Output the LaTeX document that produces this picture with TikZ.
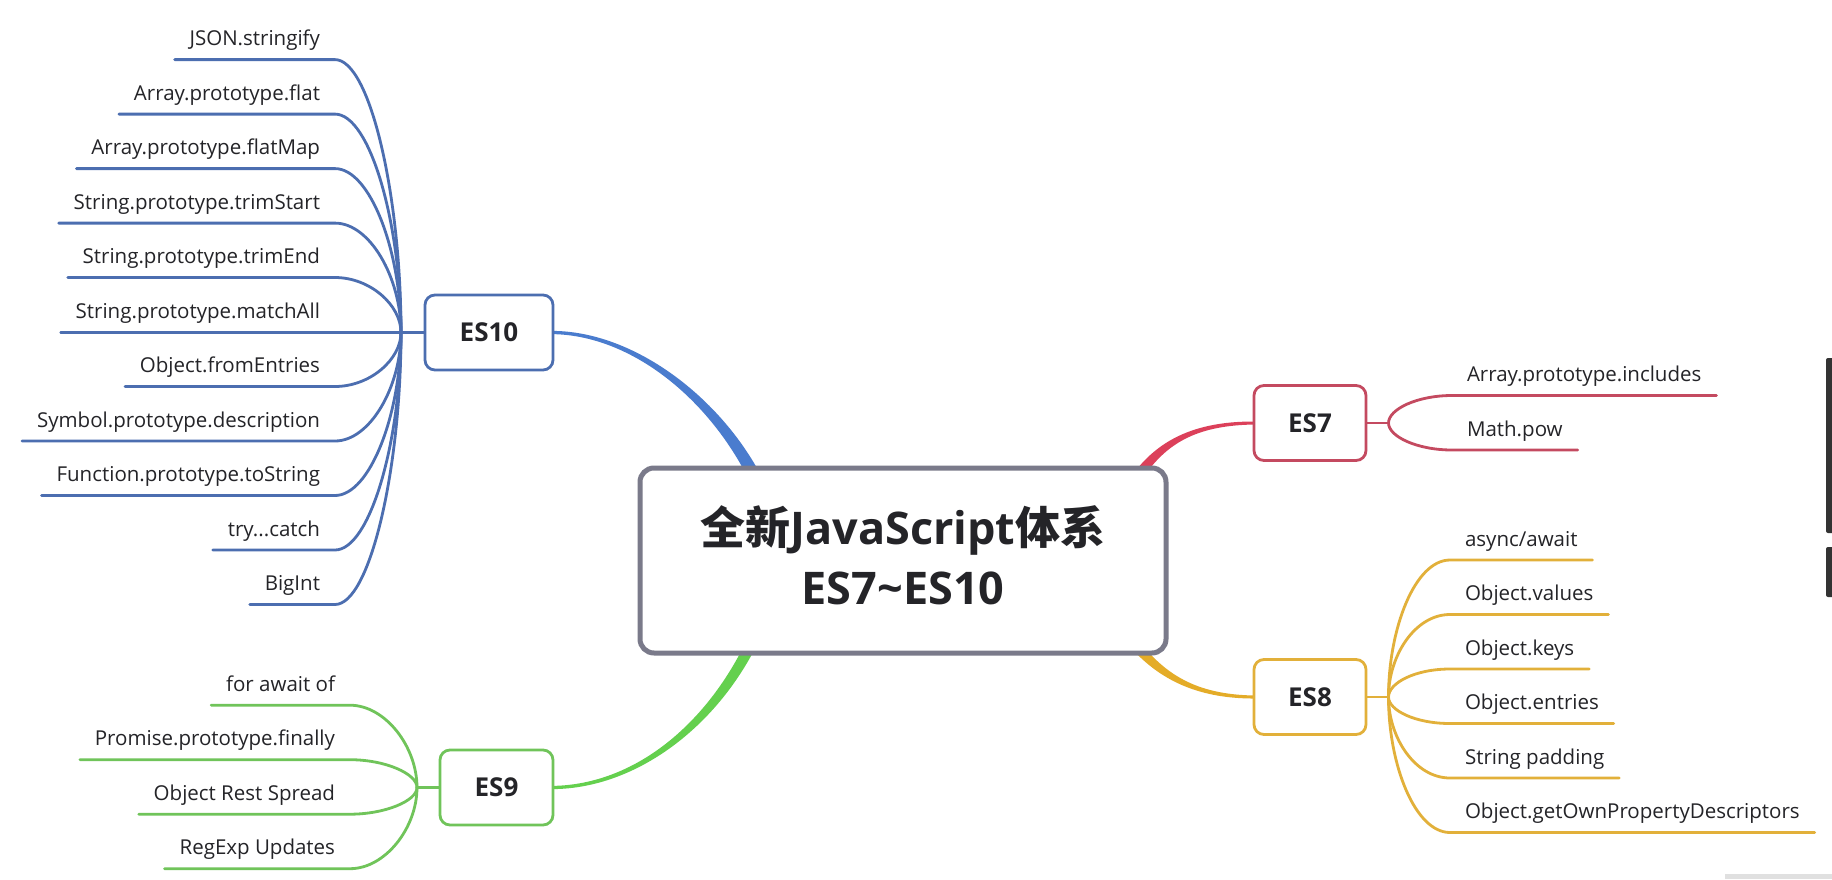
\documentclass[tikz,border=0pt]{standalone}
\usepackage{fontspec}
\setmainfont{Open Sans}
\newfontfamily\cjk{Noto Sans CJK SC}
\usetikzlibrary{calc}
\pgfdeclarelayer{bg}
\pgfsetlayers{bg,main}
\definecolor{txt}{RGB}{36,36,40}
\definecolor{bl}{RGB}{76,110,176}
\definecolor{blthick}{RGB}{74,124,206}
\definecolor{gr}{RGB}{112,196,90}
\definecolor{grthick}{RGB}{100,208,78}
\definecolor{rd}{RGB}{196,74,96}
\definecolor{rdthick}{RGB}{220,64,90}
\definecolor{gd}{RGB}{226,176,58}
\definecolor{gdthick}{RGB}{228,172,40}
\definecolor{cgray}{RGB}{122,122,138}
\newcommand\armL[3]{\draw[#1] (#3.south west) -- (#3.south east) .. controls ($(#3.south east)+(35,0)$) and ($(#2)!0.5!(#2|-#3.south east)$) .. (#2);}
\newcommand\armR[3]{\draw[#1] (#3.south east) -- (#3.south west) .. controls ($(#3.south west)+(-35,0)$) and ($(#2)!0.5!(#2|-#3.south west)$) .. (#2);}
\tikzset{
  item/.style={inner xsep=15pt, inner ysep=0pt, outer sep=0pt, text depth=14pt, text height=16pt,
    font=\fontsize{20.5}{24}\selectfont, text=txt},
  itemL/.style={item, anchor=south east},
  itemR/.style={item, anchor=south west},
  arm/.style={line width=2.8pt, line cap=round},
  esbox/.style={rounded corners=10pt, line width=2.8pt, fill=white, minimum height=75pt,
    font=\fontsize{26}{30}\selectfont\bfseries, text=txt, inner sep=0pt, outer sep=0pt},
  centerbox/.style={draw=cgray, line width=5pt, rounded corners=14pt, fill=white,
    minimum width=526pt, minimum height=185pt, align=center, text=txt, inner sep=0pt, outer sep=0pt,
    font=\fontsize{45}{60}\selectfont\bfseries, text depth=10pt}
}
\begin{document}
\begin{tikzpicture}[x=1pt,y=-1pt]
\useasboundingbox (0,0) rectangle (1832,879);
\begin{pgfonlayer}{bg}
\fill[white] (0,0) rectangle (1832,879);
\end{pgfonlayer}

% center
\node[centerbox] (ctr) at (903,560.5) {{\cjk 全新}JavaScript{\cjk 体系}\\ES7\textasciitilde ES10};

% ES boxes
\node[esbox, draw=bl, minimum width=128pt] (es10) at (489,332.5) {ES10};
\node[esbox, draw=gr, minimum width=113pt] (es9) at (496.5,787.5) {ES9};
\node[esbox, draw=rd, minimum width=112pt] (es7) at (1310,423) {ES7};
\node[esbox, draw=gd, minimum width=112pt] (es8) at (1310,697) {ES8};

% hubs and ends
\coordinate (h10) at (401,332.5);
\coordinate (h9) at (417,787.5);
\coordinate (h7) at (1388.5,423);
\coordinate (h8) at (1388.5,697);
\coordinate (e10) at (752,472);
\coordinate (e9) at (748,650);
\coordinate (e7) at (1141,472);
\coordinate (e8) at (1139,649);

% ES10 items
\node[itemL] (j1) at (335,59.6) {JSON.stringify};
\node[itemL] (j2) at (335,114.1) {Array.prototype.flat};
\node[itemL] (j3) at (335,168.6) {Array.prototype.flatMap};
\node[itemL] (j4) at (335,223.1) {String.prototype.trimStart};
\node[itemL] (j5) at (335,277.5) {String.prototype.trimEnd};
\node[itemL] (j6) at (335,332.5) {String.prototype.matchAll};
\node[itemL] (j7) at (335,386.5) {Object.fromEntries};
\node[itemL] (j8) at (335,441) {Symbol.prototype.description};
\node[itemL] (j9) at (335,495.5) {Function.prototype.toString};
\node[itemL] (j10) at (335,550) {try...catch};
\node[itemL] (j11) at (335,604.5) {BigInt};

% ES9 items
\node[itemL] (n1) at (350,705.2) {for await of};
\node[itemL] (n2) at (350,759.7) {Promise.prototype.finally};
\node[itemL] (n3) at (350,814.2) {Object Rest Spread};
\node[itemL] (n4) at (350,868.7) {RegExp Updates};

% ES7 items
\node[itemR] (s1) at (1452,395.5) {Array.prototype.includes};
\node[itemR] (s2) at (1452,450) {Math.pow};

% ES8 items
\node[itemR] (g1) at (1450,560) {async/await};
\node[itemR] (g2) at (1450,614.5) {Object.values};
\node[itemR] (g3) at (1450,669) {Object.keys};
\node[itemR] (g4) at (1450,723.5) {Object.entries};
\node[itemR] (g5) at (1450,778) {String padding};
\node[itemR] (g6) at (1450,832.5) {Object.getOwnPropertyDescriptors};

\begin{pgfonlayer}{bg}
% thick tapered connectors
\fill[blthick] ($(es10.east)+(-2,-1.6)$) .. controls ($(es10.east)+(77,-2)$) and ($(e10)+(-38,-80)$) .. ($(e10)+(5.5,-3)$)
  -- ($(e10)+(-5.5,3)$) .. controls ($(e10)+(-46,-75)$) and ($(es10.east)+(77,2)$) .. ($(es10.east)+(-2,1.6)$) -- cycle;
\fill[grthick] ($(es9.east)+(-2,-1.6)$) .. controls ($(es9.east)+(77,-2)$) and ($(e9)+(-47,80)$) .. ($(e9)+(-4.9,-2.5)$)
  -- ($(e9)+(4.9,2.5)$) .. controls ($(e9)+(-39,84)$) and ($(es9.east)+(77,2)$) .. ($(es9.east)+(-2,1.6)$) -- cycle;
\fill[rdthick] ($(es7.west)+(2,-1.5)$) .. controls ($(es7.west)+(-54,-2)$) and ($(e7)+(22,-35)$) .. ($(e7)+(-4,-3)$)
  -- ($(e7)+(4,3)$) .. controls ($(e7)+(28,-31)$) and ($(es7.west)+(-54,2)$) .. ($(es7.west)+(2,1.5)$) -- cycle;
\fill[gdthick] ($(es8.west)+(2,-1.5)$) .. controls ($(es8.west)+(-54,-2)$) and ($(e8)+(30,28)$) .. ($(e8)+(3.7,-3.4)$)
  -- ($(e8)+(-3.7,3.4)$) .. controls ($(e8)+(24,32)$) and ($(es8.west)+(-54,2)$) .. ($(es8.west)+(2,1.5)$) -- cycle;

% hub stubs
\draw[arm, bl] (es10.west) -- (h10);
\draw[arm, gr] (es9.west) -- (h9);
\draw[arm, rd] (es7.east) -- (h7);
\draw[arm, gd] (es8.east) -- (h8);

% arms
\foreach \n in {j1,j2,j3,j4,j5,j6,j7,j8,j9,j10,j11} {\armL{arm, bl}{h10}{\n}}
\foreach \n in {n1,n2,n3,n4} {\armL{arm, gr}{h9}{\n}}
\foreach \n in {s1,s2} {\armR{arm, rd}{h7}{\n}}
\foreach \n in {g1,g2,g3,g4,g5,g6} {\armR{arm, gd}{h8}{\n}}
\end{pgfonlayer}

% screen edge artifacts
\fill[black!80, rounded corners=2pt] (1826,358) rectangle (1840,533);
\fill[black!80, rounded corners=2pt] (1826,547) rectangle (1840,597);
\fill[black!12] (1725,874) rectangle (1832,879);
\end{tikzpicture}
\end{document}
